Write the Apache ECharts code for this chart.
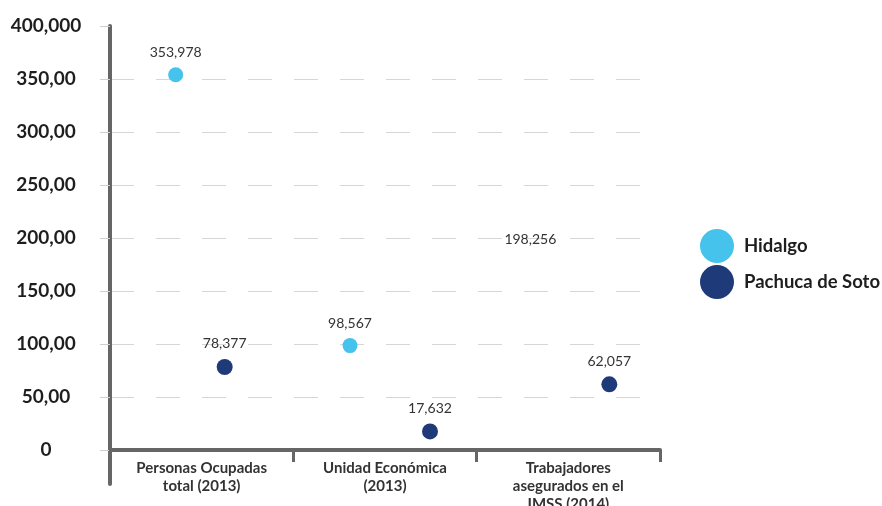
<!DOCTYPE html>
<html lang="es">
<head>
    <meta charset="UTF-8">
    <title>Hidalgo vs Pachuca de Soto</title>
</head>
<body style="margin:0;background:#fff;">
    <div id="main" style="width: 882px;height:506px;"></div>
    <script src="https://cdn.jsdelivr.net/npm/echarts@6/dist/echarts.min.js"></script>
    <script>

var categories = ['Personas Ocupadas\ntotal (2013)', 'Unidad Económica\n(2013)', 'Trabajadores\nasegurados en el\nIMSS (2014)'];
var seriesNames = ['Hidalgo', 'Pachuca de Soto'];
var hidalgo = [353978, 98567, 198256];
var pachuca = [78377, 17632, 62057];
var yTicks = [0, 50000, 100000, 150000, 200000, 250000, 300000, 350000, 400000];
var yTickLabels = ['0', '50,00', '100,00', '150,00', '200,00', '250,00', '300,00', '350,00', '400,000'];

// estilos: desplazamiento horizontal de cada punto dentro de su categoria
var hidalgoOffsets = [-26, -35, -38];
var pachucaOffsets = [23, 45, 41];
var colors = ['#45c3ec', '#1f3a78'];
var fontFamily = 'Lato, "Noto Sans", sans-serif';

function buildData(values, offsets, hideIdx) {
    return values.map(function (v, i) {
        var item = {value: v, symbolOffset: [offsets[i], 0]};
        if (i === hideIdx) {
            // el punto no aparece en el original, solo la etiqueta
            item.itemStyle = {opacity: 0};
            item.label = {position: 'inside', opacity: 1};
        }
        return item;
    });
}

var option = {
    color: colors,
    animation: false,
    legend: {
        data: seriesNames,
        orient: 'vertical',
        left: 695,
        top: 224,
        icon: 'circle',
        itemWidth: 36,
        itemHeight: 34,
        itemGap: 2,
        textStyle: {
            fontFamily: fontFamily,
            fontWeight: 'bold',
            fontSize: 18.5,
            color: '#1e1e1e',
            padding: [0, 0, 0, 4]
        }
    },
    grid: {
        left: 110,
        right: 222,
        top: 26,
        bottom: 22,
        outerBoundsMode: 'none'
    },
    xAxis: {
        type: 'category',
        data: categories,
        axisLine: {
            onZero: true,
            lineStyle: {color: '#666', width: 4}
        },
        axisTick: {
            show: true,
            length: 12,
            lineStyle: {color: '#666', width: 3}
        },
        axisLabel: {
            fontFamily: fontFamily,
            fontWeight: 'bold',
            fontSize: 15,
            lineHeight: 18,
            color: '#333',
            margin: -25
        },
        splitLine: {show: false}
    },
    yAxis: {
        type: 'value',
        min: -32000,
        max: 400000,
        splitNumber: 8,
        axisLine: {
            show: true,
            lineStyle: {color: '#666', width: 4}
        },
        axisTick: {
            show: true,
            length: 10,
            customValues: yTicks,
            lineStyle: {color: '#d0d0d0'}
        },
        axisLabel: {
            customValues: yTicks,
            fontFamily: fontFamily,
            fontWeight: 'bold',
            fontSize: 19,
            color: '#1e1e1e',
            align: 'center',
            margin: 64,
            formatter: function (v) {
                var i = yTicks.indexOf(v);
                return i >= 0 ? yTickLabels[i] : '';
            }
        },
        splitLine: {
            show: true,
            showMinLine: false,
            showMaxLine: false,
            lineStyle: {color: '#d6d6d6', width: 1, type: [24, 22]}
        }
    },
    series: [
        {
            name: seriesNames[0],
            type: 'scatter',
            symbolSize: 15,
            itemStyle: {opacity: 1},
            data: buildData(hidalgo, hidalgoOffsets, 2),
            label: {
                show: true,
                position: 'top',
                distance: 8,
                fontFamily: fontFamily,
                fontSize: 14,
                color: '#333',
                formatter: function (p) { return p.value.toLocaleString('en-US'); }
            }
        },
        {
            name: seriesNames[1],
            type: 'scatter',
            symbolSize: 16,
            itemStyle: {opacity: 1},
            data: buildData(pachuca, pachucaOffsets, -1),
            label: {
                show: true,
                position: 'top',
                distance: 8,
                fontFamily: fontFamily,
                fontSize: 14,
                color: '#333',
                formatter: function (p) { return p.value.toLocaleString('en-US'); }
            }
        }
    ]
};

var myChart = echarts.init(document.getElementById('main'));
myChart.setOption(option);

    </script>
</body>
</html>
